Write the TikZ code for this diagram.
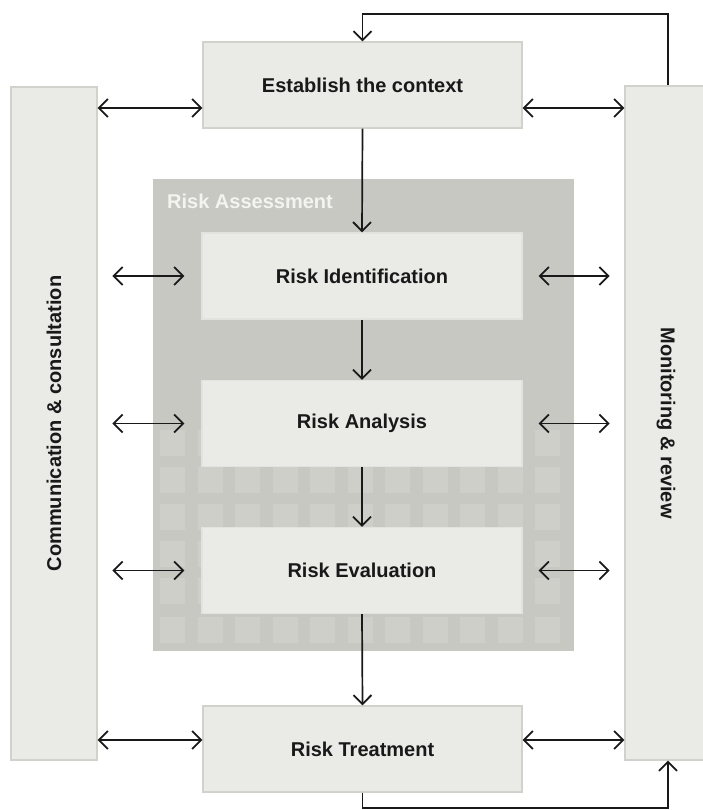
\documentclass[tikz,border=0pt]{standalone}
\usepackage{fontspec}
\setmainfont{Liberation Sans}
\usetikzlibrary{arrows.meta,calc}

\definecolor{boxfill}{RGB}{234,234,230}
\definecolor{boxline}{RGB}{210,210,205}
\definecolor{innerline}{RGB}{226,226,222}
\definecolor{assessbg}{RGB}{200,200,195}
\definecolor{tile}{RGB}{207,207,202}
\definecolor{ink}{RGB}{25,25,25}
\definecolor{labelwhite}{RGB}{243,243,239}

\begin{document}
\begin{tikzpicture}[x=1pt,y=-1pt,
  txt/.style={font=\fontsize{20}{24}\selectfont\bfseries, text=ink},
  stepbox/.style={draw=boxline, line width=1.3pt, fill=boxfill, inner sep=0pt,
                  minimum width=319pt, minimum height=86pt, txt},
  innerbox/.style={stepbox, draw=innerline, minimum width=320pt},
  column/.style={draw=boxline, line width=1.3pt, fill=boxfill, inner sep=0pt},
  barb/.tip={Straight Barb[length=9pt,width=18pt,line width=1.8pt]},
  link/.style={draw=ink, line width=1.7pt, -barb},
  twoway/.style={draw=ink, line width=1.7pt, barb-barb}
]
\useasboundingbox (0,0) rectangle (703,810);
\clip (0,0) rectangle (703,810);

% side columns
\node[column, minimum width=86pt, minimum height=673pt] (comm) at (54,423.5) {};
\node[column, minimum width=82pt, minimum height=674pt] (mon) at (666,423) {};
\node[txt, rotate=90] (commtext) at (comm.center) {Communication \& consultation};
\node[txt, rotate=-90] (montext) at (mon.center) {Monitoring \& review};

% risk assessment panel with its faint tiled backdrop
\node[fill=assessbg, inner sep=0pt, minimum width=421pt, minimum height=472pt] (assess) at (363.5,415) {};
\foreach \r in {430,467,504,541,578,617} {
  \foreach \c in {160,197.5,...,536} {
    \fill[tile] (\c,\r) rectangle ++(25,26);
  }
}
\node[anchor=base west, font=\fontsize{20}{24}\selectfont\bfseries, text=labelwhite, inner sep=0pt]
  (assesslabel) at (167,208) {Risk Assessment};

% process steps
\node[stepbox] (ctx) at (362.5,85) {Establish the context};
\node[innerbox] (ri) at (362,276) {Risk Identification};
\node[innerbox] (ran) at (362,423.5) {Risk Analysis};
\node[innerbox] (re) at (362,570.5) {Risk Evaluation};
\node[stepbox] (rt) at (362.5,749) {Risk Treatment};

% main flow
\draw[link] (ctx.south) -- (ri.north);
\draw[link] (ri.south) -- (ran.north);
\draw[link] (ran.south) -- (re.north);
\draw[link] (re.south) -- (rt.north);

% feedback loops through monitoring & review
\coordinate (topbend) at (668,14);
\coordinate (botbend) at (668,808);
\draw[link] (topbend |- mon.north) -- (topbend) -| (ctx.north);
\draw[link] (rt.south) |- (botbend) -- (botbend |- mon.south);

% exchanges with the side columns
\draw[twoway] ([yshift=-23pt]ctx.west -| comm.east) -- ([yshift=-23pt]ctx.west);
\draw[twoway] ([yshift=-23pt]ctx.east) -- ([yshift=-23pt]ctx.east -| mon.west);
\draw[twoway] ([yshift=9pt]rt.west -| comm.east) -- ([yshift=9pt]rt.west);
\draw[twoway] ([yshift=9pt]rt.east) -- ([yshift=9pt]rt.east -| mon.west);
\foreach \b in {ri,ran,re} {
  \draw[twoway] ([xshift=-89pt]\b.west) -- ([xshift=-17pt]\b.west);
  \draw[twoway] ([xshift=16pt]\b.east) -- ([xshift=87pt]\b.east);
}
\end{tikzpicture}
\end{document}
